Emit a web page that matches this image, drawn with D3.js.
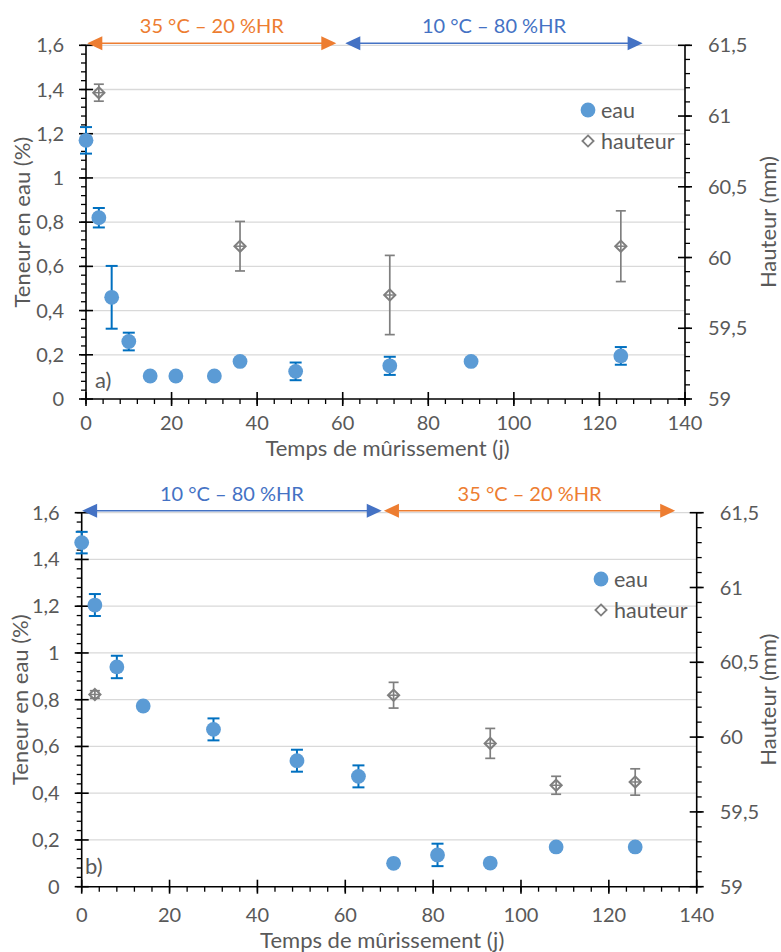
<!DOCTYPE html>
<html><head><meta charset="utf-8">
<script src="https://cdn.jsdelivr.net/npm/d3@7"></script>
<style>
html,body{margin:0;padding:0;background:#fff;}
svg{display:block;font-family:Lato,"Open Sans",sans-serif;}
</style></head>
<body>
<svg id="chart" width="781" height="952"></svg>
<script>
// ---- data: panel a ----
const daysA_eau = [0, 3, 6, 10, 15, 21, 30, 36, 49, 71, 90, 125];
const eauA = [1.17, 0.82, 0.46, 0.26, 0.104, 0.104, 0.104, 0.17, 0.125, 0.15, 0.17, 0.195];
const eauA_err = [0.06, 0.044, 0.142, 0.04, 0, 0, 0, 0, 0.04, 0.041, 0, 0.04];
const daysA_h = [3, 36, 71, 125];
const hauteurA = [61.165, 60.08, 59.735, 60.08];
const hauteurA_err = [0.06, 0.175, 0.28, 0.25];
const periodsA = [
  {label: "35 °C – 20 %HR", from: 0.3, to: 58.5, color: "#ED7D31"},
  {label: "10 °C – 80 %HR", from: 60.6, to: 130.1, color: "#4472C4"}
];
// ---- data: panel b ----
const daysB_eau = [0, 3, 8, 14, 30, 49, 63, 71, 81, 93, 108, 126];
const eauB = [1.472, 1.205, 0.94, 0.773, 0.673, 0.539, 0.472, 0.10, 0.136, 0.101, 0.17, 0.17];
const eauB_err = [0.046, 0.047, 0.048, 0, 0.047, 0.047, 0.047, 0, 0.048, 0, 0, 0];
const daysB_h = [3, 71, 93, 108, 126];
const hauteurB = [60.285, 60.28, 59.958, 59.678, 59.70];
const hauteurB_err = [0.025, 0.086, 0.1, 0.06, 0.088];
const periodsB = [
  {label: "10 °C – 80 %HR", from: 0.1, to: 68.3, color: "#4472C4"},
  {label: "35 °C – 20 %HR", from: 68.8, to: 135.1, color: "#ED7D31"}
];
// ---- axes ----
const xTicks = [0, 20, 40, 60, 80, 100, 120, 140];
const yTicks = [0, 0.2, 0.4, 0.6, 0.8, 1.0, 1.2, 1.4, 1.6];
const yTickLabels = ["0", "0,2", "0,4", "0,6", "0,8", "1", "1,2", "1,4", "1,6"];
const y2Ticks = [59, 59.5, 60, 60.5, 61, 61.5];
const y2TickLabels = ["59", "59,5", "60", "60,5", "61", "61,5"];
const xTitle = "Temps de mûrissement (j)";
const yTitle = "Teneur en eau (%)";
const y2Title = "Hauteur (mm)";
const seriesNames = ["eau", "hauteur"];

const svg = d3.select("#chart");
const FONT = 20;
const TFONT = 22;
const TXT = "#595959";

function panel(cfg) {
  const x = d3.scaleLinear().domain([0, 140]).range([cfg.left, cfg.right]);
  const y = d3.scaleLinear().domain([0, 1.6]).range([cfg.bottom, cfg.top]);
  const y2 = d3.scaleLinear().domain([59, 61.5]).range([cfg.bottom, cfg.top]);
  const g = svg.append("g");

  // gridlines
  g.selectAll(".grid").data(yTicks.slice(1)).join("line")
    .attr("x1", cfg.left).attr("x2", cfg.right)
    .attr("y1", d => y(d)).attr("y2", d => y(d))
    .attr("stroke", "#D9D9D9").attr("stroke-width", 1.3);

  // minor ticks
  const yMinor = d3.range(0, 1.6001, 0.04);
  g.selectAll(".ymin").data(yMinor).join("line")
    .attr("x1", cfg.left - 5).attr("x2", cfg.left)
    .attr("y1", d => y(d)).attr("y2", d => y(d)).attr("stroke", "#000").attr("stroke-width", 1.3);
  const y2Minor = d3.range(59, 61.5001, 0.1);
  g.selectAll(".y2min").data(y2Minor).join("line")
    .attr("x1", cfg.right).attr("x2", cfg.right + 5)
    .attr("y1", d => y2(d)).attr("y2", d => y2(d)).attr("stroke", "#000").attr("stroke-width", 1.3);
  const xMinor = d3.range(0, 140.001, 4);
  g.selectAll(".xmin").data(xMinor).join("line")
    .attr("x1", d => x(d)).attr("x2", d => x(d))
    .attr("y1", cfg.bottom).attr("y2", cfg.bottom + 5).attr("stroke", "#000").attr("stroke-width", 1.3);

  // major ticks (crossing)
  g.selectAll(".ymaj").data(yTicks).join("line")
    .attr("x1", cfg.left - 7).attr("x2", cfg.left + 7)
    .attr("y1", d => y(d)).attr("y2", d => y(d)).attr("stroke", "#000").attr("stroke-width", 1.6);
  g.selectAll(".y2maj").data(y2Ticks).join("line")
    .attr("x1", cfg.right - 7).attr("x2", cfg.right + 7)
    .attr("y1", d => y2(d)).attr("y2", d => y2(d)).attr("stroke", "#000").attr("stroke-width", 1.6);
  g.selectAll(".xmaj").data(xTicks).join("line")
    .attr("x1", d => x(d)).attr("x2", d => x(d))
    .attr("y1", cfg.bottom - 7).attr("y2", cfg.bottom + 7).attr("stroke", "#000").attr("stroke-width", 1.6);

  // axis lines
  g.append("line").attr("x1", cfg.left).attr("x2", cfg.left).attr("y1", cfg.top).attr("y2", cfg.bottom)
    .attr("stroke", "#000").attr("stroke-width", 1.6);
  g.append("line").attr("x1", cfg.right).attr("x2", cfg.right).attr("y1", cfg.top).attr("y2", cfg.bottom)
    .attr("stroke", "#000").attr("stroke-width", 1.6);
  g.append("line").attr("x1", cfg.left).attr("x2", cfg.right).attr("y1", cfg.bottom).attr("y2", cfg.bottom)
    .attr("stroke", "#000").attr("stroke-width", 1.6);

  // tick labels
  g.selectAll(".yl").data(yTicks).join("text")
    .attr("x", cfg.left - 22).attr("y", d => y(d)).attr("dy", "0.35em")
    .attr("text-anchor", "end").attr("font-size", FONT).attr("fill", TXT)
    .text((d, i) => yTickLabels[i]);
  g.selectAll(".y2l").data(y2Ticks).join("text")
    .attr("x", cfg.right + 23).attr("y", d => y2(d)).attr("dy", "0.35em")
    .attr("text-anchor", "start").attr("font-size", FONT).attr("fill", TXT)
    .text((d, i) => y2TickLabels[i]);
  g.selectAll(".xl").data(xTicks).join("text")
    .attr("x", d => x(d)).attr("y", cfg.bottom + cfg.xlDy).attr("dy", "0.35em")
    .attr("text-anchor", "middle").attr("font-size", FONT).attr("fill", TXT)
    .text(d => d);

  // titles
  g.append("text").attr("x", (cfg.left + cfg.right) / 2 + cfg.xtOff).attr("y", cfg.bottom + cfg.xtDy).attr("dy", "0.35em")
    .attr("text-anchor", "middle").attr("font-size", TFONT).attr("fill", TXT).text(xTitle);
  g.append("text").attr("transform", `translate(${cfg.ytX},${(cfg.top + cfg.bottom) / 2}) rotate(-90)`)
    .attr("dy", "0.35em").attr("text-anchor", "middle").attr("font-size", TFONT).attr("fill", TXT).text(yTitle);
  g.append("text").attr("transform", `translate(${cfg.y2tX},${(cfg.top + cfg.bottom) / 2}) rotate(-90)`)
    .attr("dy", "0.35em").attr("text-anchor", "middle").attr("font-size", TFONT).attr("fill", TXT).text(y2Title);

  // panel letter
  g.append("text").attr("x", cfg.letterX).attr("y", cfg.letterY).attr("dy", "0.35em")
    .attr("font-size", 22).attr("fill", TXT).text(cfg.letter);

  // period arrows
  const ay = cfg.top - 2;
  cfg.periods.forEach(p => {
    const x1 = x(p.from), x2 = x(p.to);
    const hl = 15, hw = 7;
    g.append("line").attr("x1", x1 + hl - 1).attr("x2", x2 - hl + 1).attr("y1", ay).attr("y2", ay)
      .attr("stroke", p.color).attr("stroke-width", 1.6);
    g.append("path").attr("d", `M${x1},${ay} L${x1 + hl},${ay - hw} L${x1 + hl},${ay + hw} Z`).attr("fill", p.color);
    g.append("path").attr("d", `M${x2},${ay} L${x2 - hl},${ay - hw} L${x2 - hl},${ay + hw} Z`).attr("fill", p.color);
    g.append("text").attr("x", (x1 + x2) / 2).attr("y", ay - 17).attr("dy", "0.35em")
      .attr("text-anchor", "middle").attr("font-size", FONT).attr("fill", p.color).text(p.label);
  });

  // hauteur series (gray hollow diamonds + error bars)
  const HC = "#7F7F7F";
  cfg.dh.forEach((d, i) => {
    const cx = x(d), cy = y2(cfg.h[i]);
    const e = cfg.herr[i];
    const yt = y2(cfg.h[i] + e), yb = y2(cfg.h[i] - e);
    g.append("line").attr("x1", cx).attr("x2", cx).attr("y1", yt).attr("y2", yb).attr("stroke", HC).attr("stroke-width", 1.7);
    [yt, yb].forEach(yy => g.append("line").attr("x1", cx - 5).attr("x2", cx + 5).attr("y1", yy).attr("y2", yy).attr("stroke", HC).attr("stroke-width", 1.7));
    g.append("line").attr("x1", cx - 5).attr("x2", cx + 5).attr("y1", cy).attr("y2", cy).attr("stroke", HC).attr("stroke-width", 1.5);
    g.append("path").attr("d", d3.symbol(d3.symbolDiamond2, 80)()).attr("transform", `translate(${cx},${cy})`)
      .attr("fill", "none").attr("stroke", HC).attr("stroke-width", 2);
  });

  // eau series (blue circles + error bars)
  const EC = "#0070C0";
  cfg.de.forEach((d, i) => {
    const cx = x(d), v = cfg.e[i], e = cfg.eerr[i];
    if (e > 0) {
      const yt = y(v + e), yb = y(v - e);
      g.append("line").attr("x1", cx).attr("x2", cx).attr("y1", yt).attr("y2", yb).attr("stroke", EC).attr("stroke-width", 2);
      [yt, yb].forEach(yy => g.append("line").attr("x1", cx - 6).attr("x2", cx + 6).attr("y1", yy).attr("y2", yy).attr("stroke", EC).attr("stroke-width", 2));
    }
  });
  g.selectAll(".eau").data(cfg.de).join("circle")
    .attr("cx", d => x(d)).attr("cy", (d, i) => y(cfg.e[i])).attr("r", 7.4).attr("fill", "#5B9BD5");

  // legend
  g.append("circle").attr("cx", cfg.legX).attr("cy", cfg.legY).attr("r", 7.4).attr("fill", "#5B9BD5");
  g.append("text").attr("x", cfg.legX + 13).attr("y", cfg.legY).attr("dy", "0.35em")
    .attr("font-size", 21.5).attr("fill", TXT).text(seriesNames[0]);
  g.append("path").attr("d", d3.symbol(d3.symbolDiamond2, 80)()).attr("transform", `translate(${cfg.legX},${cfg.legY + 31})`)
    .attr("fill", "none").attr("stroke", HC).attr("stroke-width", 1.8);
  g.append("text").attr("x", cfg.legX + 13).attr("y", cfg.legY + 31).attr("dy", "0.35em")
    .attr("font-size", 21.5).attr("fill", TXT).text(seriesNames[1]);
}

panel({left: 86, right: 685, top: 45.3, bottom: 399, de: daysA_eau, e: eauA, eerr: eauA_err,
  dh: daysA_h, h: hauteurA, herr: hauteurA_err, periods: periodsA, letter: "a)", letterX: 95, letterY: 380,
  legX: 588, legY: 110, ytX: 22, y2tX: 768, xlDy: 24, xtDy: 49, xtOff: 2});
panel({left: 81.7, right: 696.7, top: 512.7, bottom: 886.7, de: daysB_eau, e: eauB, eerr: eauB_err,
  dh: daysB_h, h: hauteurB, herr: hauteurB_err, periods: periodsB, letter: "b)", letterX: 85, letterY: 866,
  legX: 601, legY: 579, ytX: 20, y2tX: 768, xlDy: 28, xtDy: 54, xtOff: -7});
</script>
</body></html>
